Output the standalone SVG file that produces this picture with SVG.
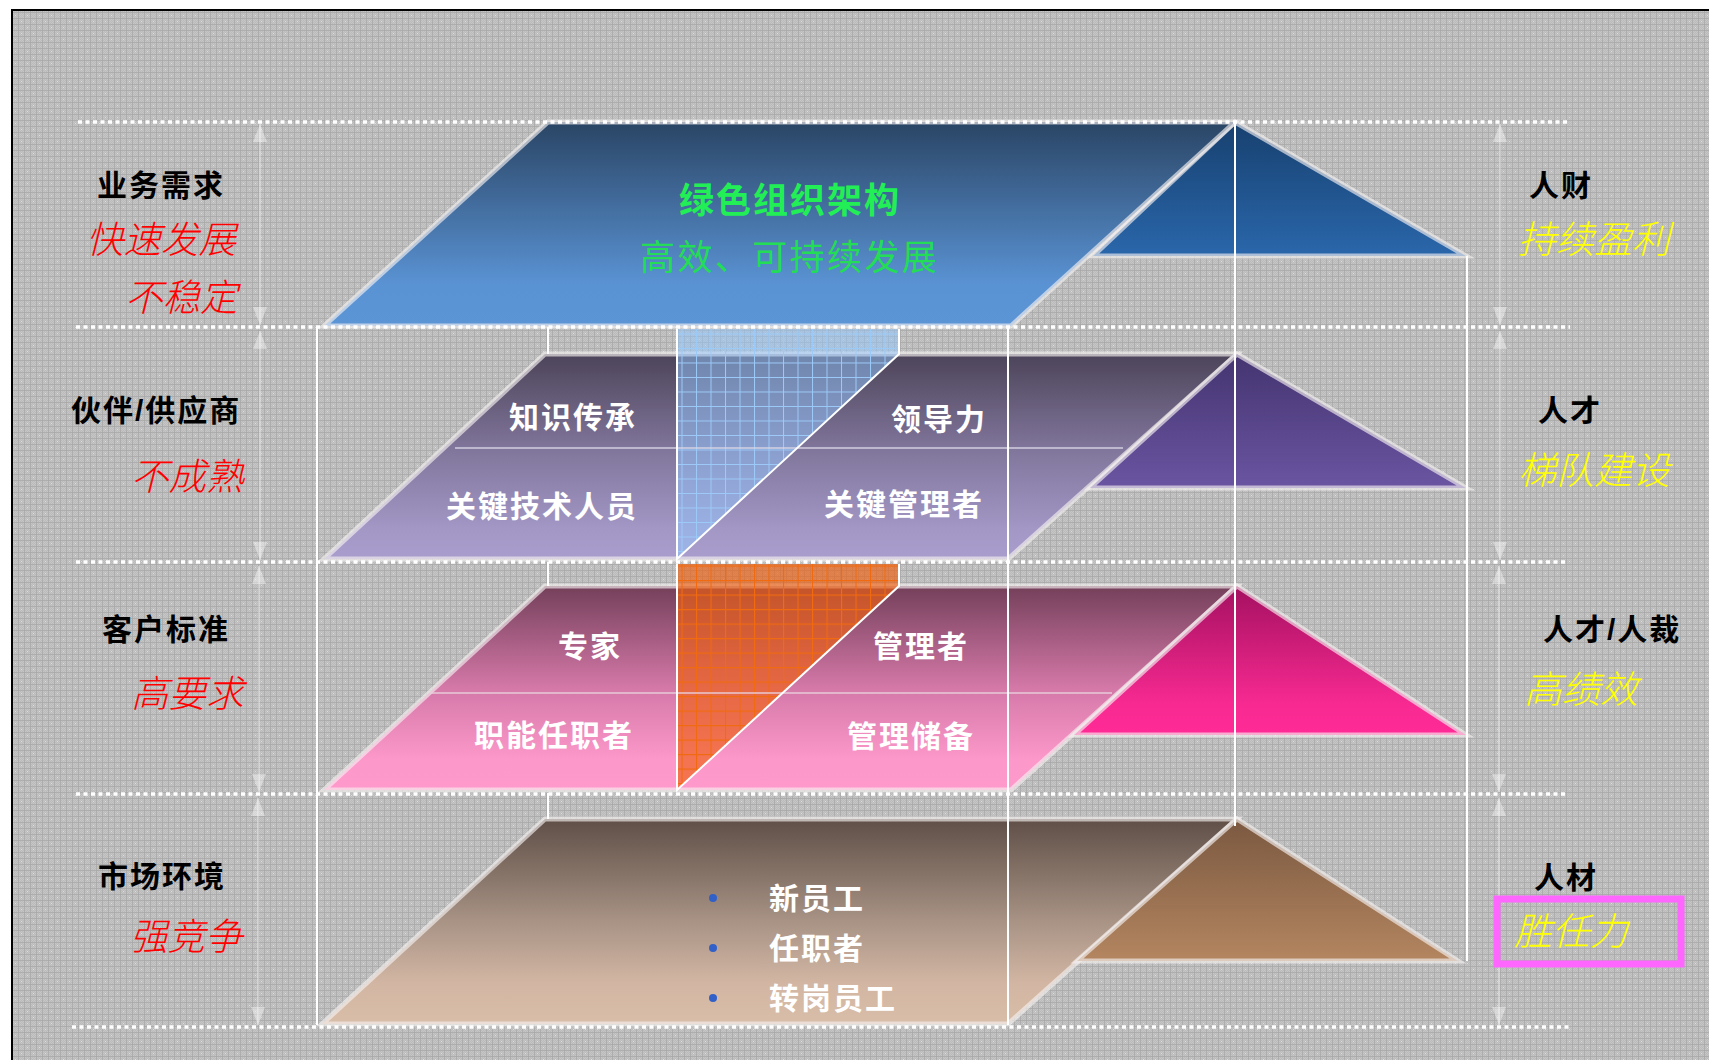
<svg xmlns="http://www.w3.org/2000/svg" width="1709" height="1060" viewBox="0 0 1709 1060">
<style>
text{font-family:"Liberation Sans","Noto Sans CJK SC",sans-serif}
.b{font-size:30px;font-weight:700;fill:#000;letter-spacing:2px}
.w{font-size:30px;font-weight:700;fill:#fff;letter-spacing:2px}
.r{font-size:37.5px;font-style:italic;fill:#ff0000;font-weight:300}
.y{font-size:38px;font-style:italic;fill:#ffff00;font-weight:300}
.edge{stroke:#f4f0f0;stroke-opacity:.65;stroke-width:5;stroke-linejoin:miter}
.dot{stroke:#fff;stroke-width:3.5;stroke-dasharray:4 3.5;fill:none}
.v{stroke:#fff;stroke-width:2;fill:none}
.dim{stroke:#fff;stroke-opacity:.45;stroke-width:1.5;fill:none;marker-start:url(#ah);marker-end:url(#ah)}
</style>
<defs>
<pattern id="fine" width="2" height="2" patternUnits="userSpaceOnUse"><rect width="2" height="2" fill="#bababa"/><path d="M0 0h1v1H0zM1 1h1v1H1z" fill="#c6c6c6"/></pattern>
<pattern id="bg" width="12" height="12" patternUnits="userSpaceOnUse"><path d="M0 .5H12M.5 0V12M0 6.5H12M6.5 0V12" stroke="#a6a6a6" stroke-opacity=".75" stroke-width="1"/><path d="M3 3h1v1H3zM9 9h1v1H9z" fill="#dedede"/></pattern>
<pattern id="gb" width="14.5" height="14.5" patternUnits="userSpaceOnUse"><path d="M0 .5H14.5M.5 0V14.5" stroke="#9ccaf8" stroke-width="1"/></pattern>
<pattern id="go" width="14.5" height="14.5" patternUnits="userSpaceOnUse"><path d="M0 .5H14.5M.5 0V14.5" stroke="#f06a10" stroke-width="1.2"/></pattern>
<marker id="ah" markerUnits="userSpaceOnUse" viewBox="0 0 18 14" refX="18" refY="7" markerWidth="18" markerHeight="14" orient="auto-start-reverse"><path d="M18 7L0 0V14Z" fill="#fff" fill-opacity=".4"/></marker>
<linearGradient id="g1" x1="0" y1="0" x2="0" y2="1"><stop offset="0" stop-color="#2a4565"/><stop offset=".8" stop-color="#5a93d4"/><stop offset="1" stop-color="#5c95d6"/></linearGradient>
<linearGradient id="t1" x1="0" y1="0" x2="0" y2="1"><stop offset="0" stop-color="#17406f"/><stop offset="1" stop-color="#2a67ab"/></linearGradient>
<linearGradient id="g2" x1="0" y1="0" x2="0" y2="1"><stop offset="0" stop-color="#4c4459"/><stop offset=".45" stop-color="#7f7499"/><stop offset=".85" stop-color="#a297c5"/><stop offset="1" stop-color="#a89dcc"/></linearGradient>
<linearGradient id="t2" x1="0" y1="0" x2="0" y2="1"><stop offset="0" stop-color="#443470"/><stop offset="1" stop-color="#6a55a2"/></linearGradient>
<linearGradient id="g3" x1="0" y1="0" x2="0" y2="1"><stop offset="0" stop-color="#74405a"/><stop offset=".5" stop-color="#d478a8"/><stop offset=".85" stop-color="#fc98ca"/><stop offset="1" stop-color="#ff99cc"/></linearGradient>
<linearGradient id="t3" x1="0" y1="0" x2="0" y2="1"><stop offset="0" stop-color="#a41060"/><stop offset=".8" stop-color="#f82a92"/><stop offset="1" stop-color="#ff2a96"/></linearGradient>
<linearGradient id="g4" x1="0" y1="0" x2="0" y2="1"><stop offset="0" stop-color="#5f4f47"/><stop offset=".5" stop-color="#a89385"/><stop offset=".8" stop-color="#d2b6a3"/><stop offset="1" stop-color="#d8bda8"/></linearGradient>
<linearGradient id="t4" x1="0" y1="0" x2="0" y2="1"><stop offset="0" stop-color="#7a5840"/><stop offset="1" stop-color="#b48660"/></linearGradient>
</defs>
<rect width="1709" height="1060" fill="#fff"/>
<rect x="12" y="10" width="1698" height="1051" fill="url(#fine)"/>
<rect x="12" y="10" width="1698" height="1051" fill="url(#bg)" stroke="#000" stroke-width="2"/>

<g id="layer4">
<path d="M545 819H1237L1008 1024H322Z" fill="url(#g4)" class="edge"/>
<path d="M1237 819L1458 961H1077Z" fill="url(#t4)" class="edge"/>
<circle cx="713" cy="898" r="4" fill="#3060c8"/><circle cx="713" cy="948" r="4" fill="#3060c8"/><circle cx="713" cy="998" r="4" fill="#3060c8"/>
<text class="w" x="769" y="909">新员工</text><text class="w" x="769" y="959">任职者</text><text class="w" x="769" y="1009">转岗员工</text>
</g>
<g id="layer3">
<path d="M545 586H1237L1011 790H324Z" fill="url(#g3)" class="edge"/>
<path d="M1237 586L1466 735H1074Z" fill="url(#t3)" class="edge"/>
<path d="M677 564H899V586L677 790Z" fill="#f06010" fill-opacity=".65"/>
<path d="M677 564H899V586L677 790Z" fill="url(#go)"/>
<path d="M430 693H1112" stroke="#e8d0dc" stroke-opacity=".7" stroke-width="2"/>
<path d="M677 564V790L899 586V564" fill="none" stroke="#fff" stroke-width="2"/>
<text class="w" x="558" y="657">专家</text><text class="w" x="873" y="657">管理者</text>
<text class="w" x="474" y="746">职能任职者</text><text class="w" x="847" y="747">管理储备</text>
</g>
<g id="layer2">
<path d="M545 354H1237L1008 559H324Z" fill="url(#g2)" class="edge"/>
<path d="M1237 354L1466 488H1090Z" fill="url(#t2)" class="edge"/>
<path d="M677 329H899V354L677 559Z" fill="#94c8ff" fill-opacity=".5"/>
<path d="M677 329H899V354L677 559Z" fill="url(#gb)"/>
<path d="M455 448H1123" stroke="#d8d4e4" stroke-opacity=".7" stroke-width="2"/>
<path d="M677 329V559L899 354V329" fill="none" stroke="#fff" stroke-width="2"/>
<text class="w" x="509" y="428">知识传承</text><text class="w" x="891" y="430">领导力</text>
<text class="w" x="446" y="517">关键技术人员</text><text class="w" x="824" y="515">关键管理者</text>
</g>
<g id="layer1">
<path d="M1235 122L1466 256H1093Z" fill="url(#t1)" class="edge"/>
<path d="M548 122H1235L1011 326H324Z" fill="url(#g1)" class="edge"/>
<text x="679" y="213" font-size="35" font-weight="700" fill="#22ee55" letter-spacing="2">绿色组织架构</text>
<text x="640" y="270" font-size="35" fill="#22dd55" letter-spacing="2.4">高效、可持续发展</text>
</g>

<g id="connectors">
<path class="v" d="M317 327V1025M1008 327V1025M1235 122V826M1467 256V961M548 327V354M548 562V586M548 793V819"/>
<path class="dot" d="M78 122H1570M76 327H1570M76 562H1568M76 794H1568M72 1027H1570"/>
<path class="dim" d="M260 124V325"/><path class="dim" d="M260 331V560"/><path class="dim" d="M259 566V792"/><path class="dim" d="M258 798V1025"/>
<path class="dim" d="M1500 124V325"/><path class="dim" d="M1500 331V560"/><path class="dim" d="M1499 566V792"/><path class="dim" d="M1499 798V1025"/>
</g>

<g id="left-labels">
<text class="b" x="97" y="196">业务需求</text>
<text class="r" x="86" y="253">快速发展</text>
<text class="r" x="125" y="311">不稳定</text>
<text class="b" x="71" y="421">伙伴/供应商</text>
<text class="r" x="131" y="490">不成熟</text>
<text class="b" x="102" y="640">客户标准</text>
<text class="r" x="131" y="707">高要求</text>
<text class="b" x="98" y="887">市场环境</text>
<text class="r" x="130" y="950">强竞争</text>
</g>
<g id="right-labels">
<text class="b" x="1529" y="196">人财</text>
<text class="y" x="1518" y="253">持续盈利</text>
<text class="b" x="1538" y="421">人才</text>
<text class="y" x="1518" y="484">梯队建设</text>
<text class="b" x="1543" y="640">人才/人裁</text>
<text class="y" x="1524" y="703">高绩效</text>
<text class="b" x="1534" y="888">人材</text>
<rect x="1497" y="899" width="184" height="65" fill="none" stroke="#ff66ff" stroke-width="7"/>
<text class="y" x="1514" y="945">胜任力</text>
</g>
</svg>
